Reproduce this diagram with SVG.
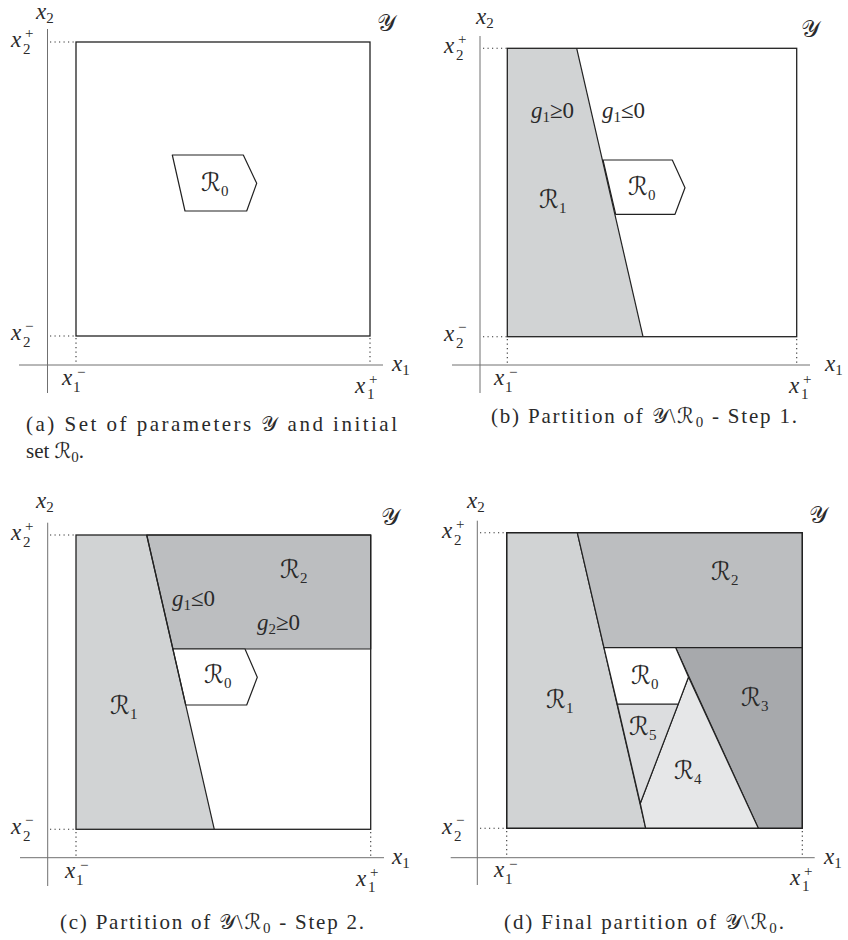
<svg xmlns="http://www.w3.org/2000/svg" width="848" height="940" viewBox="0 0 848 940">
<style>
.ax{stroke:#707070;stroke-width:1;fill:none}
.dot{stroke:#333;stroke-width:1.1;stroke-dasharray:1.2 3.3;fill:none}
.box{stroke:#222;stroke-width:1.3;fill:none}
.edge{stroke:#222;stroke-width:1.2;stroke-linejoin:round}
.wh{fill:#fff}.r1{fill:#d1d3d4}.r2{fill:#bcbec0}.r3{fill:#a7a9ac}.r4{fill:#e6e7e8}.r5{fill:#dcdddf}
text{font-family:"Liberation Serif","DejaVu Serif","DejaVu Sans",serif;fill:#2a2a2a}
.m{font-style:italic;font-size:23px}
.n{font-style:normal}
.s{font-style:normal;font-size:15px}
.cal{font-size:25px;font-style:normal}
.Y{font-size:24px;font-style:normal}
.cap{font-size:21px}
</style>

<!-- Panel (a) -->
<g id="panel-a">
  <g id="a-axes">
    <line class="ax" x1="47.5" y1="29" x2="47.5" y2="393"/>
    <line class="ax" x1="19" y1="365" x2="383" y2="365"/>
    <path class="dot" d="M50 42H76M50 336H76M76 338V365M370 338V365"/>
  </g>
  <g id="a-Y"><rect class="box" x="76" y="42" width="294" height="294" fill="#fff"/></g>
  <g id="a-R0">
    <polygon class="edge wh" points="172.3,155 243.3,155 256.7,183.3 246.7,211 185,211"/>
    <text class="cal" x="201" y="191">ℛ<tspan class="s" dy="5">0</tspan></text>
  </g>
  <g id="a-labels">
    <text class="m" x="36" y="19" font-size="21">x<tspan class="s" dy="4">2</tspan></text>
    <text class="m" x="11" y="47">x<tspan class="s" x="23" y="54">2</tspan><tspan class="s" x="25" y="38">+</tspan></text>
    <text class="m" x="11" y="340">x<tspan class="s" x="23" y="347">2</tspan><tspan class="s" x="25" y="331">−</tspan></text>
    <text class="m" x="62" y="385">x<tspan class="s" x="73" y="392">1</tspan><tspan class="s" x="77" y="377">−</tspan></text>
    <text class="m" x="355" y="393">x<tspan class="s" x="367" y="399">1</tspan><tspan class="s" x="369" y="384">+</tspan></text>
    <text class="m" x="392" y="371">x<tspan class="s" dy="4">1</tspan></text>
    <text class="Y" x="377" y="31">𝒴</text>
  </g>
  <text class="cap" x="26" y="431" textLength="371" lengthAdjust="spacing">(a) Set of parameters 𝒴 and initial</text>
  <text class="cap" x="26" y="458">set ℛ<tspan font-size="15" dy="4">0</tspan><tspan dy="-4">.</tspan></text>
</g>

<!-- Panel (b) -->
<g id="panel-b">
  <g id="b-axes">
    <line class="ax" x1="480" y1="36" x2="480" y2="393"/>
    <line class="ax" x1="452" y1="365" x2="810" y2="365"/>
    <path class="dot" d="M483 48.3H507M483 336.7H507M507.3 339V365M796.7 339V365"/>
  </g>
  <g id="b-Y"><rect x="507.3" y="48.3" width="289.4" height="288.4" fill="#fff"/></g>
  <g id="b-R1">
    <polygon class="r1" points="507.3,48.3 576.7,48.3 643,336.7 507.3,336.7"/>
    <text class="cal" x="539" y="208">ℛ<tspan class="s" dy="5">1</tspan></text>
  </g>
  <g id="b-R0">
    <polygon class="edge wh" points="603,160 672.3,160 685,187.7 675,214.3 615.7,214.3"/>
    <text class="cal" x="628" y="195">ℛ<tspan class="s" dy="5">0</tspan></text>
  </g>
  <g id="b-edges">
    <line class="edge" x1="576.7" y1="48.3" x2="643" y2="336.7"/>
    <rect class="box" x="507.3" y="48.3" width="289.4" height="288.4"/>
  </g>
  <g id="b-labels">
    <text class="m" x="531" y="118">g<tspan class="s" dy="4">1</tspan><tspan class="n" dy="-4">≥0</tspan></text>
    <text class="m" x="602" y="118">g<tspan class="s" dy="4">1</tspan><tspan class="n" dy="-4">≤0</tspan></text>
    <text class="m" x="476" y="24" font-size="21">x<tspan class="s" dy="4">2</tspan></text>
    <text class="m" x="444" y="53">x<tspan class="s" x="456" y="60">2</tspan><tspan class="s" x="458" y="44">+</tspan></text>
    <text class="m" x="444" y="341">x<tspan class="s" x="456" y="348">2</tspan><tspan class="s" x="458" y="332">−</tspan></text>
    <text class="m" x="494" y="385">x<tspan class="s" x="505" y="392">1</tspan><tspan class="s" x="509" y="377">−</tspan></text>
    <text class="m" x="789" y="393">x<tspan class="s" x="801" y="399">1</tspan><tspan class="s" x="803" y="384">+</tspan></text>
    <text class="m" x="825" y="371">x<tspan class="s" dy="4">1</tspan></text>
    <text class="Y" x="801" y="37">𝒴</text>
  </g>
  <text class="cap" x="491" y="423" textLength="306" lengthAdjust="spacing">(b) Partition of 𝒴\ℛ<tspan font-size="15" dy="4">0</tspan><tspan dy="-4"> - Step 1.</tspan></text>
</g>

<!-- Panel (c) -->
<g id="panel-c">
  <g id="c-axes">
    <line class="ax" x1="47.7" y1="522.7" x2="47.7" y2="886"/>
    <line class="ax" x1="20" y1="857.7" x2="384" y2="857.7"/>
    <path class="dot" d="M50 535H76M50 829.3H76M76 832V857.7M370.7 832V857.7"/>
  </g>
  <g id="c-Y"><rect x="76" y="535" width="294.7" height="294.3" fill="#fff"/></g>
  <g id="c-R1">
    <polygon class="r1" points="76,535 146.7,535 214.3,829.3 76,829.3"/>
    <text class="cal" x="110" y="714">ℛ<tspan class="s" dy="5">1</tspan></text>
  </g>
  <g id="c-R2">
    <polygon class="r2 edge" points="146.7,535 370.7,535 370.7,649 172.9,649"/>
    <text class="cal" x="280" y="578">ℛ<tspan class="s" dy="5">2</tspan></text>
  </g>
  <g id="c-R0">
    <polygon class="edge wh" points="172.9,649 245,649 257.3,677.3 246.7,705 185.7,705"/>
    <text class="cal" x="204" y="683">ℛ<tspan class="s" dy="5">0</tspan></text>
  </g>
  <g id="c-edges">
    <line class="edge" x1="146.7" y1="535" x2="214.3" y2="829.3"/>
    <rect class="box" x="76" y="535" width="294.7" height="294.3"/>
  </g>
  <g id="c-labels">
    <text class="m" x="172" y="606">g<tspan class="s" dy="4">1</tspan><tspan class="n" dy="-4">≤0</tspan></text>
    <text class="m" x="257" y="630">g<tspan class="s" dy="4">2</tspan><tspan class="n" dy="-4">≥0</tspan></text>
    <text class="m" x="36" y="508" font-size="21">x<tspan class="s" dy="4">2</tspan></text>
    <text class="m" x="11" y="540">x<tspan class="s" x="23" y="547">2</tspan><tspan class="s" x="25" y="531">+</tspan></text>
    <text class="m" x="11" y="834">x<tspan class="s" x="23" y="841">2</tspan><tspan class="s" x="25" y="825">−</tspan></text>
    <text class="m" x="65" y="878">x<tspan class="s" x="76" y="885">1</tspan><tspan class="s" x="80" y="870">−</tspan></text>
    <text class="m" x="356" y="886">x<tspan class="s" x="368" y="892">1</tspan><tspan class="s" x="370" y="877">+</tspan></text>
    <text class="m" x="392" y="864">x<tspan class="s" dy="4">1</tspan></text>
    <text class="Y" x="381" y="525">𝒴</text>
  </g>
  <text class="cap" x="60" y="929" textLength="304" lengthAdjust="spacing">(c) Partition of 𝒴\ℛ<tspan font-size="15" dy="4">0</tspan><tspan dy="-4"> - Step 2.</tspan></text>
</g>

<!-- Panel (d) -->
<g id="panel-d">
  <g id="d-axes">
    <line class="ax" x1="477.3" y1="520.7" x2="477.3" y2="885"/>
    <line class="ax" x1="450.7" y1="857.7" x2="814.7" y2="857.7"/>
    <path class="dot" d="M480 532.7H506.7M480 828.3H506.7M506.7 831V857.7M802.3 831V857.7"/>
  </g>
  <g id="d-R1">
    <polygon class="r1 edge" points="506.7,532.7 577.3,532.7 645.7,828.3 506.7,828.3"/>
    <text class="cal" x="546" y="708">ℛ<tspan class="s" dy="5">1</tspan></text>
  </g>
  <g id="d-R2">
    <polygon class="r2 edge" points="577.3,532.7 802.3,532.7 802.3,647.7 604,647.7"/>
    <text class="cal" x="711" y="580">ℛ<tspan class="s" dy="5">2</tspan></text>
  </g>
  <g id="d-R3">
    <polygon class="r3 edge" points="675.7,647.7 802.3,647.7 802.3,828.3 758.3,828.3"/>
    <text class="cal" x="741" y="706">ℛ<tspan class="s" dy="5">3</tspan></text>
  </g>
  <g id="d-R4">
    <polygon class="r4 edge" points="688.5,677 758.3,828.3 645.7,828.3 640.3,803.3"/>
    <text class="cal" x="674" y="779">ℛ<tspan class="s" dy="5">4</tspan></text>
  </g>
  <g id="d-R5">
    <polygon class="r5 edge" points="617.3,704 678.3,704 640.3,803.3"/>
    <text class="cal" x="629" y="735">ℛ<tspan class="s" dy="5">5</tspan></text>
  </g>
  <g id="d-R0">
    <polygon class="edge wh" points="604,647.7 675.7,647.7 688.5,677 678.3,704 617.3,704"/>
    <text class="cal" x="631" y="684">ℛ<tspan class="s" dy="5">0</tspan></text>
  </g>
  <g id="d-Y"><rect class="box" x="506.7" y="532.7" width="295.6" height="295.6"/></g>
  <g id="d-labels">
    <text class="m" x="467" y="508" font-size="21">x<tspan class="s" dy="4">2</tspan></text>
    <text class="m" x="442" y="538">x<tspan class="s" x="454" y="545">2</tspan><tspan class="s" x="456" y="529">+</tspan></text>
    <text class="m" x="442" y="834">x<tspan class="s" x="454" y="841">2</tspan><tspan class="s" x="456" y="825">−</tspan></text>
    <text class="m" x="494" y="877">x<tspan class="s" x="505" y="884">1</tspan><tspan class="s" x="509" y="869">−</tspan></text>
    <text class="m" x="790" y="885">x<tspan class="s" x="802" y="891">1</tspan><tspan class="s" x="804" y="876">+</tspan></text>
    <text class="m" x="824" y="864">x<tspan class="s" dy="4">1</tspan></text>
    <text class="Y" x="809" y="523">𝒴</text>
  </g>
  <text class="cap" x="504" y="929" textLength="280" lengthAdjust="spacing">(d) Final partition of 𝒴\ℛ<tspan font-size="15" dy="4">0</tspan><tspan dy="-4">.</tspan></text>
</g>
</svg>
